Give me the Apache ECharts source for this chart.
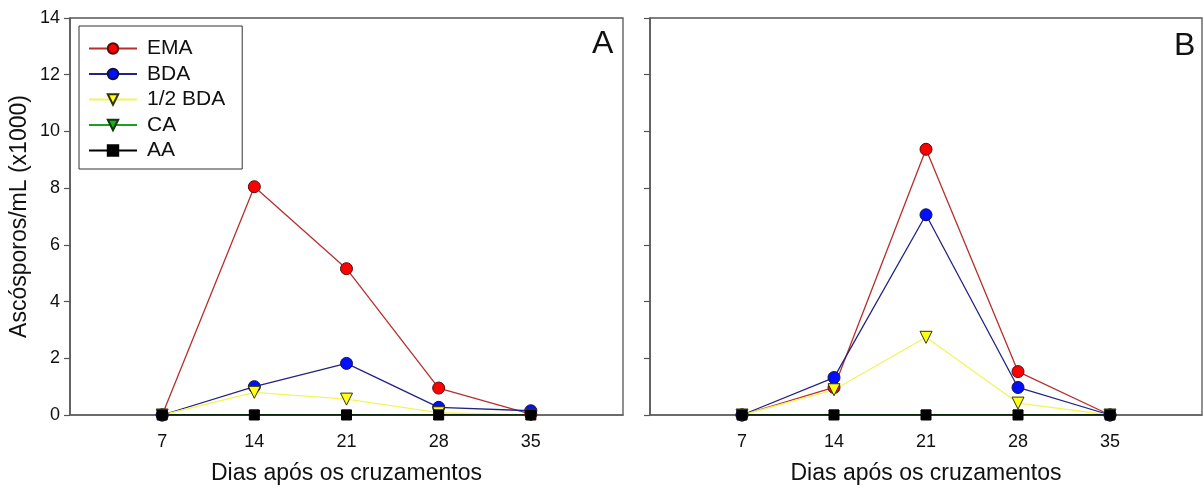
<!DOCTYPE html>
<html>
<head>
<meta charset="utf-8">
<script src="https://cdn.jsdelivr.net/npm/echarts@6/dist/echarts.min.js"></script>
<style>
  html, body { margin: 0; padding: 0; background: #fff; }
  #chart { width: 1203px; height: 490px; }
</style>
</head>
<body>
<div id="chart"></div>
<script>
// Days after crossing (x positions)
const days = [7, 14, 21, 28, 35];

// Series names
const seriesNames = ['EMA', 'BDA', '1/2 BDA', 'CA', 'AA'];

// Panel A: ascospores/mL (x1000)
const emaA     = [0, 8.05, 5.16, 0.95, 0.03];
const bdaA     = [0, 1.00, 1.82, 0.27, 0.15];
const halfBdaA = [0, 0.80, 0.56, 0.08, 0.00];
const caA      = [0, 0, 0, 0, 0];
const aaA      = [0, 0, 0, 0, 0];

// Panel B: ascospores/mL (x1000)
const emaB     = [0, 0.97, 9.37, 1.53, 0];
const bdaB     = [0, 1.32, 7.06, 0.97, 0];
const halfBdaB = [0, 0.89, 2.74, 0.42, 0];
const caB      = [0, 0, 0, 0, 0];
const aaB      = [0, 0, 0, 0, 0];

// Y axis ticks
const yTicks = [0, 2, 4, 6, 8, 10, 12, 14];

const FONT = 'Liberation Sans, Arial, sans-serif';

// Visual style of each series
const styles = {
  'EMA':     { line: '#b5302c', fill: '#ff0000', border: '#5a0a0a', symbol: 'circle',   size: 12, rotate: 0 },
  'BDA':     { line: '#232383', fill: '#0010ff', border: '#10104a', symbol: 'circle',   size: 12, rotate: 0 },
  '1/2 BDA': { line: '#f4f45a', fill: '#ffff1a', border: '#333300', symbol: 'triangle', size: 12, rotate: 180 },
  'CA':      { line: '#1f9e1f', fill: '#22aa22', border: '#0c3a0c', symbol: 'triangle', size: 10, rotate: 180 },
  'AA':      { line: '#000000', fill: '#000000', border: '#000000', symbol: 'rect',     size: 10, rotate: 0 }
};

function pairs(vals) { return days.map((d, i) => [d, vals[i]]); }

function makeSeries(name, vals, idx) {
  const s = styles[name];
  return {
    name: name,
    type: 'line',
    xAxisIndex: idx,
    yAxisIndex: idx,
    data: pairs(vals),
    symbol: s.symbol,
    symbolSize: s.size,
    symbolRotate: s.rotate,
    showAllSymbol: true,
    lineStyle: { color: s.line, width: 1.3 },
    itemStyle: { color: s.fill, borderColor: s.border, borderWidth: 1 },
    emphasis: { disabled: true },
    animation: false
  };
}

const panelA = [emaA, bdaA, halfBdaA, caA, aaA];
const panelB = [emaB, bdaB, halfBdaB, caB, aaB];

const series = [];
seriesNames.forEach((n, i) => series.push(makeSeries(n, panelA[i], 0)));
seriesNames.forEach((n, i) => series.push(makeSeries(n, panelB[i], 1)));

function xAxis(idx) {
  return {
    type: 'value',
    gridIndex: idx,
    min: 0, max: 42, interval: 7,
    name: 'Dias após os cruzamentos',
    nameLocation: 'middle',
    nameGap: 47,
    nameTextStyle: { fontFamily: FONT, fontSize: 23, color: '#111' },
    axisLine: { show: true, onZero: false, lineStyle: { color: '#666', width: 1.5 } },
    axisTick: { show: false },
    axisLabel: {
      fontFamily: FONT, fontSize: 18, color: '#111', margin: 18,
      showMinLabel: false, showMaxLabel: false,
      formatter: v => (days.indexOf(v) >= 0 ? String(v) : '')
    },
    splitLine: { show: false }
  };
}

function yAxis(idx, withLabels) {
  return {
    type: 'value',
    gridIndex: idx,
    min: yTicks[0], max: yTicks[yTicks.length - 1], interval: 2,
    name: withLabels ? 'Ascósporos/mL (x1000)' : '',
    nameLocation: 'middle',
    nameGap: 39,
    nameRotate: 90,
    nameTextStyle: { fontFamily: FONT, fontSize: 23, color: '#111' },
    axisLine: { show: true, lineStyle: { color: '#555', width: 1.5 } },
    axisTick: { show: true, inside: false, length: 6, lineStyle: { color: '#555', width: 1.2 } },
    axisLabel: { show: withLabels, fontFamily: FONT, fontSize: 18, color: '#111', margin: 10 },
    splitLine: { show: false }
  };
}

const chart = echarts.init(document.getElementById('chart'), null, { renderer: 'canvas' });

chart.setOption({
  backgroundColor: '#fff',
  animation: false,
  grid: [
    { left: 70, top: 18, width: 553, height: 399, show: true, borderColor: '#555', borderWidth: 1.3 },
    { left: 650, top: 18, width: 552, height: 399, show: true, borderColor: '#555', borderWidth: 1.3 }
  ],
  xAxis: [xAxis(0), xAxis(1)],
  yAxis: [yAxis(0, true), yAxis(1, false)],
  legend: {
    data: seriesNames,
    orient: 'vertical',
    left: 79, top: 26,
    padding: [12, 17, 8, 9],
    itemWidth: 48,
    itemHeight: 13,
    itemGap: 4.5,
    borderColor: '#333',
    borderWidth: 1,
    backgroundColor: '#fff',
    selectedMode: false,
    textStyle: { fontFamily: FONT, fontSize: 21, color: '#111', padding: [0, 0, 0, 5] }
  },
  graphic: [
    { type: 'text', left: 592, top: 28, style: { text: 'A', font: '32px ' + FONT, fill: '#111' } },
    { type: 'text', left: 1174, top: 30, style: { text: 'B', font: '32px ' + FONT, fill: '#111' } }
  ],
  series: series
});
</script>
</body>
</html>
